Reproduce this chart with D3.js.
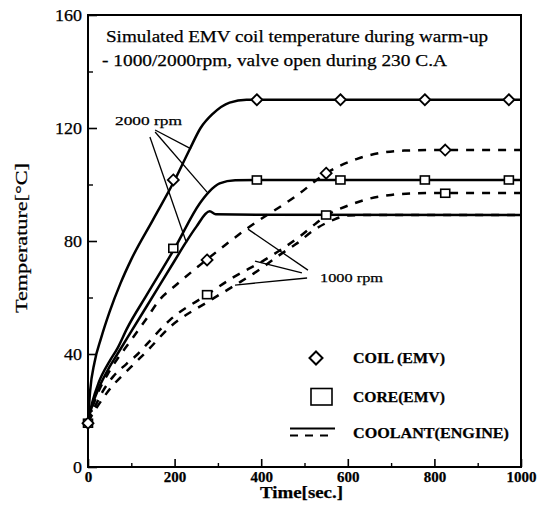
<!DOCTYPE html>
<html><head><meta charset="utf-8">
<script src="https://cdn.jsdelivr.net/npm/d3@7"></script>
<style>
body{margin:0;background:#fff}
svg{display:block}
text{font-family:"Liberation Serif","Times New Roman",serif;fill:#000;stroke:#000;stroke-width:0.25px}
</style>
</head><body>
<svg id="chart" width="547" height="524"></svg>
<script>
// ---------- data ----------
const xTicks = [0, 200, 400, 600, 800, 1000];
const xMinorTicks = [100, 300, 500, 700, 900];
const yTicks = [0, 40, 80, 120, 160];
const yMinorTicks = [20, 60, 100, 140];

const titleLines = ["Simulated EMV coil temperature during warm-up", "- 1000/2000rpm, valve open during 230 C.A"];
const xLabel = "Time[sec.]";
const yLabel = "Temperature[°C]";
const legendLabels = ["COIL (EMV)", "CORE(EMV)", "COOLANT(ENGINE)"];
const rpmLabels = ["2000 rpm", "1000 rpm"];

// 2000 rpm (solid)
const tCoil2000 = [0, 5, 15, 30, 50, 75, 100, 150, 200, 235, 260, 288, 327, 366, 400, 600, 800, 1000];
const coil2000  = [16, 27, 37, 45.5, 55, 65, 73.5, 87.5, 101.5, 112.5, 120, 125, 129, 130, 130, 130, 130, 130];
const tCore2000 = [0, 10, 25, 50, 68, 90, 136, 200, 258, 280, 304, 340, 400, 1000];
const core2000  = [16, 23, 30, 37.5, 42, 49, 61, 77.4, 93.3, 97.5, 100.4, 101.5, 101.6, 101.6];
const tCool2000 = [0, 10, 25, 50, 68, 90, 136, 200, 226, 250, 281, 295, 400, 1000];
const cool2000  = [16, 22, 28, 35.5, 40, 45.5, 57, 73, 79.5, 85, 90.5, 89.5, 89.3, 89.2];

// 1000 rpm (dashed)
const tCoil1000 = [0, 10, 25, 50, 100, 135, 167, 200, 275, 369, 484, 550, 620, 680, 730, 800, 1000];
const coil1000  = [16, 21, 27, 34, 45, 52.5, 59.5, 64, 73.5, 84.6, 96.3, 104, 109, 111.3, 112, 112.2, 112.2];
const tCore1000 = [0, 20, 35, 58, 89, 115, 136, 189, 275, 334, 408, 488, 527, 550, 600, 650, 700, 760, 830, 1000];
const core1000  = [16, 22.6, 27, 32, 36.5, 40, 43.5, 52, 61, 67, 73.3, 81.5, 86.3, 89, 92.5, 95, 96.3, 96.9, 97, 97];
const tCool1000 = [0, 20, 50, 100, 136, 189, 277, 340, 400, 442, 481, 523, 565, 600, 650, 1000];
const cool1000  = [16, 21, 27.5, 35.5, 41, 49.5, 58.5, 64.4, 70.3, 75, 79, 84, 87.4, 89, 89.2, 89.2];

// sampled markers
const tMarks2000 = [0, 197, 390, 583, 778, 972];
const coilMarks2000 = [15.5, 101.6, 130, 130, 130, 130];
const coreMarks2000 = [15.5, 77.4, 101.6, 101.6, 101.6, 101.6];
const tMarks1000 = [275, 550, 825];
const coilMarks1000 = [73.3, 104, 112.2];
const coreMarks1000 = [61, 89.2, 96.9];

// leader lines (data coordinates): [fromT, fromV, toT, toV]
const leaders2000 = [[155, 119.3, 238, 112.6], [155, 118.6, 275, 97.3], [143, 116.8, 226, 80]];
const leaders1000 = [[508, 69.7, 369.5, 84.2], [494, 68.7, 385.7, 72.9], [506, 66.9, 339.5, 64.4]];

// ---------- chart ----------
const svg = d3.select("#chart");
const L = 88, R = 521, T = 15, B = 467;
const x = d3.scaleLinear().domain([0, 1000]).range([L, R]);
const y = d3.scaleLinear().domain([0, 160]).range([B, T]);

// axes
const gx = svg.append("g").attr("transform", `translate(0,${B})`)
  .call(d3.axisBottom(x).tickValues(xTicks).tickSize(-8).tickPadding(4.5).tickFormat(d3.format("d")));
gx.select(".domain").remove();
gx.selectAll(".tick line").attr("stroke", "#000").attr("stroke-width", 1.6);
gx.selectAll(".tick text").attr("font-size", 15).attr("font-weight", "bold")
  .attr("font-family", "Liberation Serif, serif");
const gxm = svg.append("g").attr("transform", `translate(0,${B})`)
  .call(d3.axisBottom(x).tickValues(xMinorTicks).tickSize(-4).tickFormat(""));
gxm.select(".domain").remove();
gxm.selectAll(".tick line").attr("stroke", "#000").attr("stroke-width", 1.4);

const gy = svg.append("g").attr("transform", `translate(${L},0)`)
  .call(d3.axisLeft(y).tickValues(yTicks).tickSize(-9).tickPadding(6).tickFormat(d3.format("d")));
gy.select(".domain").remove();
gy.selectAll(".tick line").attr("stroke", "#000").attr("stroke-width", 1.6);
gy.selectAll(".tick text").attr("font-size", 16).attr("font-family", "Liberation Serif, serif")
  .attr("textLength", d => String(d).length * 9).attr("lengthAdjust", "spacingAndGlyphs");
const gym = svg.append("g").attr("transform", `translate(${L},0)`)
  .call(d3.axisLeft(y).tickValues(yMinorTicks).tickSize(-5).tickFormat(""));
gym.select(".domain").remove();
gym.selectAll(".tick line").attr("stroke", "#000").attr("stroke-width", 1.4);

// frame
svg.append("rect").attr("x", L).attr("y", T).attr("width", R - L).attr("height", B - T)
  .attr("fill", "none").attr("stroke", "#000").attr("stroke-width", 2);

// axis titles
svg.append("text").attr("x", 301.5).attr("y", 498).attr("text-anchor", "middle")
  .attr("font-size", 17).attr("font-weight", "bold")
  .attr("textLength", 83).attr("lengthAdjust", "spacingAndGlyphs").text(xLabel);
svg.append("text").attr("transform", "translate(27,238) rotate(-90)").attr("text-anchor", "middle")
  .attr("font-size", 17).attr("textLength", 150).attr("lengthAdjust", "spacingAndGlyphs").text(yLabel);

// title
svg.append("text").attr("x", 106).attr("y", 42).attr("font-size", 17)
  .attr("textLength", 382).attr("lengthAdjust", "spacingAndGlyphs").text(titleLines[0]);
svg.append("text").attr("x", 102).attr("y", 66).attr("font-size", 16.5)
  .attr("textLength", 345).attr("lengthAdjust", "spacingAndGlyphs").text(titleLines[1]);

// curves
const line = d3.line().x(d => x(d[0])).y(d => y(d[1])).curve(d3.curveMonotoneX);
const zip = (t, v) => t.map((tt, i) => [tt, v[i]]);
const curves = [
  {d: zip(tCoil2000, coil2000), dash: null},
  {d: zip(tCore2000, core2000), dash: null},
  {d: zip(tCool2000, cool2000), dash: null},
  {d: zip(tCoil1000, coil1000), dash: "8,8"},
  {d: zip(tCore1000, core1000), dash: "8,8"},
  {d: zip(tCool1000, cool1000), dash: "8,8"}
];
svg.append("g").selectAll("path").data(curves).join("path")
  .attr("d", c => line(c.d)).attr("fill", "none").attr("stroke", "#000")
  .attr("stroke-width", 2.5).attr("stroke-dasharray", c => c.dash);

// leader lines
svg.append("g").selectAll("line").data(leaders2000.concat(leaders1000)).join("line")
  .attr("x1", d => x(d[0])).attr("y1", d => y(d[1])).attr("x2", d => x(d[2])).attr("y2", d => y(d[3]))
  .attr("stroke", "#000").attr("stroke-width", 1.3);

svg.append("text").attr("x", 115).attr("y", 125).attr("font-size", 13.5)
  .attr("textLength", 67).attr("lengthAdjust", "spacingAndGlyphs").text(rpmLabels[0]);
svg.append("text").attr("x", 320).attr("y", 282).attr("font-size", 13.5)
  .attr("textLength", 63).attr("lengthAdjust", "spacingAndGlyphs").text(rpmLabels[1]);

// markers
const diamond = (cx, cy, w, h) => `M${cx},${cy - h}L${cx + w},${cy}L${cx},${cy + h}L${cx - w},${cy}Z`;
const mk = svg.append("g");
const coilPts = zip(tMarks2000, coilMarks2000).concat(zip(tMarks1000, coilMarks1000));
const corePts = zip(tMarks2000, coreMarks2000).concat(zip(tMarks1000, coreMarks1000));
mk.selectAll("rect").data(corePts).join("rect")
  .attr("x", d => x(d[0]) - 4.5).attr("y", d => y(d[1]) - 4)
  .attr("width", 9).attr("height", 8)
  .attr("fill", "#fff").attr("stroke", "#000").attr("stroke-width", 1.6);
mk.selectAll("path").data(coilPts).join("path")
  .attr("d", d => diamond(x(d[0]), y(d[1]), 5.5, 5.5))
  .attr("fill", "#fff").attr("stroke", "#000").attr("stroke-width", 1.8);

// legend
const lg = svg.append("g");
lg.append("path").attr("d", diamond(316, 358, 6.5, 6.5))
  .attr("fill", "#fff").attr("stroke", "#000").attr("stroke-width", 2);
lg.append("rect").attr("x", 311).attr("y", 388.5).attr("width", 21).attr("height", 16.5)
  .attr("fill", "#fff").attr("stroke", "#000").attr("stroke-width", 1.6);
lg.append("line").attr("x1", 290).attr("x2", 335).attr("y1", 428.5).attr("y2", 428.5)
  .attr("stroke", "#000").attr("stroke-width", 2);
lg.append("line").attr("x1", 290).attr("x2", 335).attr("y1", 435.5).attr("y2", 435.5)
  .attr("stroke", "#000").attr("stroke-width", 2).attr("stroke-dasharray", "8,7");
const legendY = [363, 401.5, 438];
const legendW = [92, 92, 156];
legendLabels.forEach((t, i) => {
  lg.append("text").attr("x", 353).attr("y", legendY[i]).attr("font-size", 14).attr("font-weight", "bold")
    .attr("textLength", legendW[i]).attr("lengthAdjust", "spacingAndGlyphs").text(t);
});
</script>
</body></html>
